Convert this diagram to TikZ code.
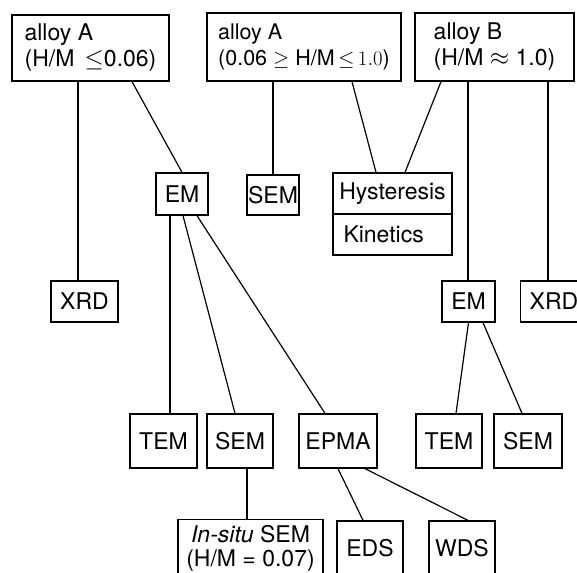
\documentclass[tikz,border=0pt]{standalone}
\usepackage[no-math]{fontspec}
\setmainfont{TeX Gyre Heros}
\begin{document}
\begin{tikzpicture}[x=1pt,y=-1pt]
\tikzset{
  box/.style={draw, line width=1.3pt, inner sep=0pt, font=\fontsize{23}{26}\selectfont},
  conn/.style={line width=1.2pt},
}
\useasboundingbox (0,0) rectangle (577,572);
% top boxes
\node[box, minimum width=157, minimum height=66, align=left] (b1) at (90.5,48) {alloy A\\(H/M\ \,$\leq$0.06)};
\node[box, minimum width=194, minimum height=68, align=left, font=\fontsize{21.5}{26}\selectfont] (b2) at (304,47) {alloy A\\(0.06 $\geq$ H/M\,$\leq$\,$1.0$)};
\node[box, minimum width=159, minimum height=68, align=left] (b3) at (494.5,47) {alloy B\\(H/M $\approx$ 1.0)};
% second row
\node[box, minimum width=52, minimum height=42] (emL) at (182,194) {EM};
\node[box, minimum width=52, minimum height=40] (semM) at (273,195) {SEM};
\node[box, minimum width=119, minimum height=41] (hyst) at (392.5,193.5) {Hysteresis};
\node[box, minimum width=119, minimum height=41, text width=98pt, inner xsep=10.5pt, align=left] (kin) at (392.5,234.5) {Kinetics};
% third row
\node[box, minimum width=67, minimum height=41] (xrdL) at (84.5,301.5) {XRD};
\node[box, minimum width=53, minimum height=41] (emR) at (468.5,301.5) {EM};
\node[box, minimum width=67, minimum height=41] (xrdR) at (554,301.5) {XRD};
% fourth row
\node[box, minimum width=67, minimum height=54] (temL) at (163.5,441) {TEM};
\node[box, minimum width=66, minimum height=54] (semL) at (240,441) {SEM};
\node[box, minimum width=78, minimum height=54] (epma) at (338,441) {EPMA};
\node[box, minimum width=66, minimum height=54] (temR) at (449,441) {TEM};
\node[box, minimum width=68, minimum height=54] (semR) at (528,441) {SEM};
% bottom row
\node[box, minimum width=145, anchor=north, inner ysep=5.5pt, align=center, font=\fontsize{23}{24}\selectfont] (insitu) at (250.5,519) {\textit{In-situ} SEM\\(H/M = 0.07)};
\node[box, minimum width=66, minimum height=55] (eds) at (370,548.5) {EDS};
\node[box, minimum width=66, minimum height=55] (wds) at (462,548.5) {WDS};
% connectors
\draw[conn] ([xshift=-12.5pt]b1.south) -- ([xshift=-6.5pt]xrdL.north);
\draw[conn] ([xshift=41.5pt]b1.south) -- (emL.north);
\draw[conn] ([xshift=-31pt]b2.south) -- (semM.north);
\draw[conn] ([xshift=48pt]b2.south) -- ([xshift=-16.5pt]hyst.north);
\draw[conn] ([xshift=-53.5pt]b3.south) -- ([xshift=12.5pt]hyst.north);
\draw[conn] ([xshift=-26.5pt]b3.south) -- ([xshift=-0.5pt]emR.north);
\draw[conn] ([xshift=53.5pt]b3.south) -- ([xshift=-6pt]xrdR.north);
\draw[conn] ([xshift=-12pt]emL.south) -- ([xshift=6.5pt]temL.north);
\draw[conn] ([xshift=1pt]emL.south) -- ([xshift=-5pt]semL.north);
\draw[conn] ([xshift=15pt]emL.south) -- ([xshift=-13pt]epma.north);
\draw[conn] (emR.south) -- ([xshift=7pt]temR.north);
\draw[conn] ([xshift=14.5pt]emR.south) -- ([xshift=-6pt]semR.north);
\draw[conn] ([xshift=7pt]semL.south) -- ([xshift=-3.5pt]insitu.north);
\draw[conn] (epma.south) -- ([xshift=-7pt]eds.north);
\draw[conn] ([xshift=27pt]epma.south) -- ([xshift=6pt]wds.north);
\end{tikzpicture}
\end{document}
